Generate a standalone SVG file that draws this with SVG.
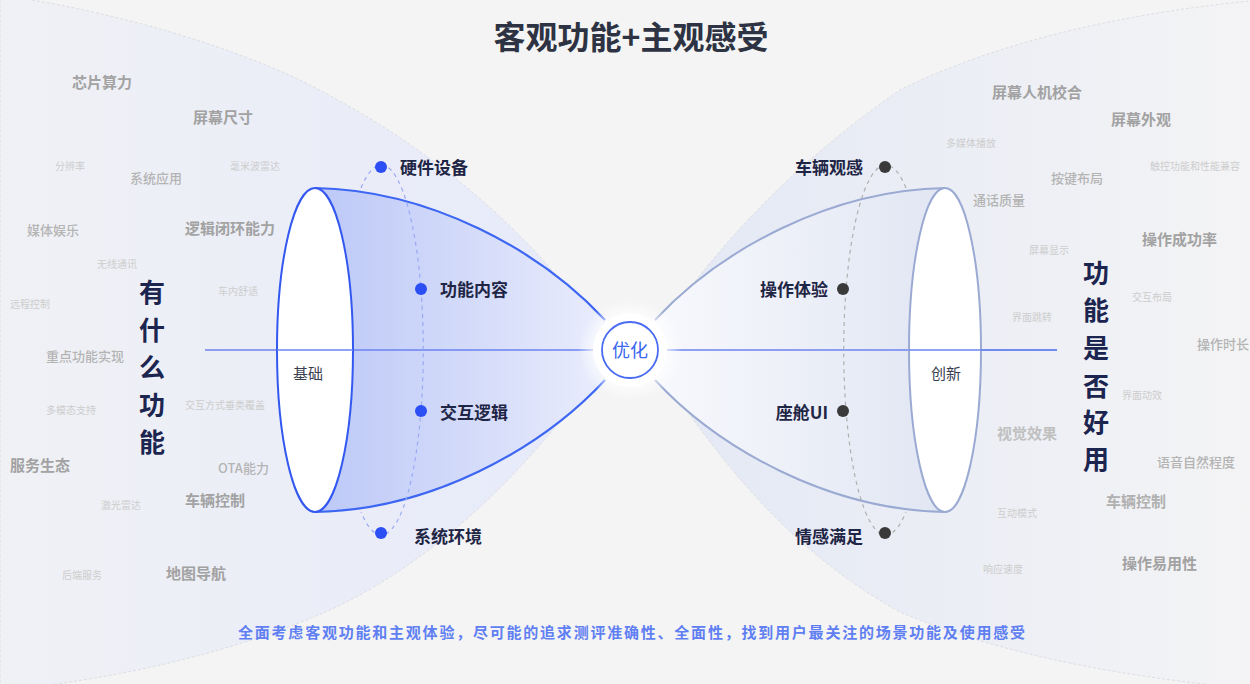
<svg xmlns="http://www.w3.org/2000/svg" width="1250" height="684" viewBox="0 0 1250 684">
<defs>
<style>
text{font-family:"Noto Sans CJK SC","Noto Sans",sans-serif;}
.g15{font-size:15px;font-weight:700;fill:#a2a2a2;}
.g13{font-size:13px;font-weight:500;fill:#b4b4b4;}
.g10{font-size:10px;fill:#cdcdcd;}
.lab{font-size:17px;font-weight:700;fill:#1e2545;}
.vert{font-size:26px;font-weight:700;fill:#1b2550;text-anchor:middle;}
.dotb{fill:#2b4ef5;}
.dotk{fill:#3a3a3a;}
</style>
<linearGradient id="bgL" x1="0" y1="0" x2="1" y2="0">
<stop offset="0" stop-color="#f0f1f5"/>
<stop offset="1" stop-color="#e6eafa"/>
</linearGradient>
<linearGradient id="bgR" x1="0" y1="0" x2="1" y2="0">
<stop offset="0" stop-color="#e3e8f5"/>
<stop offset="1" stop-color="#f4f4f5"/>
</linearGradient>
<linearGradient id="bodyL" x1="315" y1="0" x2="610" y2="0" gradientUnits="userSpaceOnUse">
<stop offset="0" stop-color="#bcc8f7"/>
<stop offset="1" stop-color="#eaedfc"/>
</linearGradient>
<linearGradient id="bodyR" x1="650" y1="0" x2="945" y2="0" gradientUnits="userSpaceOnUse">
<stop offset="0" stop-color="#f8f9fd"/>
<stop offset="1" stop-color="#e1e6f3"/>
</linearGradient>
<radialGradient id="glow">
<stop offset="0.55" stop-color="#ffffff" stop-opacity="1"/>
<stop offset="1" stop-color="#ffffff" stop-opacity="0"/>
</radialGradient>
</defs>
<rect width="1250" height="684" fill="#f4f4f4"/>
<g id="background">
<path d="M612,350 C560,270 470,165 300,80 C230,47 120,12 0,-5 L0,690 C120,680 240,650 330,610 C460,550 560,430 612,350 Z" fill="url(#bgL)" stroke="#d6d8de" stroke-dasharray="3 2" stroke-width="0.8"/>
<path d="M645,350 C700,270 770,180 900,90 C980,50 1100,15 1260,0 L1260,690 C1100,675 990,650 900,612 C770,540 700,430 645,350 Z" fill="url(#bgR)" stroke="#d6d8de" stroke-dasharray="3 2" stroke-width="0.8"/>
</g>
<g id="title"><text x="631" y="49" text-anchor="middle" font-size="32" font-weight="700" fill="#2d3342">客观功能+主观感受</text></g>
<g id="scatter-left">
<text class="g15" x="72" y="88">芯片算力</text>
<text class="g15" x="193" y="123">屏幕尺寸</text>
<text class="g10" x="55" y="170">分辨率</text>
<text class="g13" x="130" y="183">系统应用</text>
<text class="g10" x="230" y="170">毫米波雷达</text>
<text class="g13" x="27" y="235">媒体娱乐</text>
<text class="g15" x="185" y="234">逻辑闭环能力</text>
<text class="g10" x="97" y="268">无线通讯</text>
<text class="g10" x="218" y="295">车内舒适</text>
<text class="g10" x="10" y="308">远程控制</text>
<text class="g13" x="46" y="361">重点功能实现</text>
<text class="g10" x="46" y="414">多模态支持</text>
<text class="g10" x="185" y="409">交互方式垂类覆盖</text>
<text class="g13" x="218" y="473">OTA能力</text>
<text class="g15" x="10" y="471">服务生态</text>
<text class="g10" x="101" y="509">激光雷达</text>
<text class="g15" x="185" y="506">车辆控制</text>
<text class="g10" x="62" y="579">后端服务</text>
<text class="g15" x="166" y="579">地图导航</text>
</g>
<g id="scatter-right">
<text class="g15" x="992" y="98">屏幕人机校合</text>
<text class="g15" x="1111" y="125">屏幕外观</text>
<text class="g10" x="946" y="147">多媒体播放</text>
<text class="g10" x="1150" y="170">触控功能和性能兼容</text>
<text class="g13" x="1051" y="183">按键布局</text>
<text class="g13" x="973" y="205">通话质量</text>
<text class="g15" x="1142" y="245">操作成功率</text>
<text class="g10" x="1029" y="254">屏幕显示</text>
<text class="g10" x="1132" y="301">交互布局</text>
<text class="g10" x="1012" y="321">界面跳转</text>
<text class="g13" x="1197" y="349">操作时长</text>
<text class="g10" x="1122" y="399">界面动效</text>
<text class="g15" x="997" y="439" style="fill:#c0c0c0">视觉效果</text>
<text class="g13" x="1157" y="467">语音自然程度</text>
<text class="g15" x="1106" y="507" style="fill:#b0b0b0">车辆控制</text>
<text class="g10" x="997" y="517">互动模式</text>
<text class="g15" x="1122" y="569">操作易用性</text>
<text class="g10" x="983" y="573">响应速度</text>
</g>
<g id="axis">
<line x1="205" y1="350" x2="1057" y2="350" stroke="#6b83f0" stroke-width="1.5"/>
</g>
<g id="funnel-left">
<path d="M315,188 C430,190 540,250 605,320 L605,380 C540,450 430,510 315,512 Z" fill="url(#bodyL)"/>
<path d="M315,188 C430,190 540,250 605,320 M605,380 C540,450 430,510 315,512" fill="none" stroke="#3d66f2" stroke-width="2.2"/>
<line x1="353" y1="350" x2="605" y2="350" stroke="#6b83f0" stroke-width="1.5"/>
<ellipse cx="315" cy="350" rx="38" ry="162" fill="#ffffff" stroke="#3358f0" stroke-width="2"/>
<line x1="277" y1="350" x2="353" y2="350" stroke="#6b83f0" stroke-width="1.5"/>
<text x="308" y="379" text-anchor="middle" font-size="15" fill="#3a3f4f">基础</text>
<path d="M361,188 A42 185 0 1 1 361,512" fill="none" stroke="#9aaaf5" stroke-width="1.2" stroke-dasharray="4 4"/>
</g>
<g id="funnel-right">
<path d="M945,188 C830,190 720,250 655,320 L655,380 C720,450 830,510 945,512 Z" fill="url(#bodyR)"/>
<path d="M945,188 C830,190 720,250 655,320 M655,380 C720,450 830,510 945,512" fill="none" stroke="#9aaad2" stroke-width="2"/>
<line x1="655" y1="350" x2="910" y2="350" stroke="#6b83f0" stroke-width="1.5"/>
<ellipse cx="945" cy="350" rx="36" ry="162" fill="#ffffff" stroke="#9aaad2" stroke-width="2"/>
<line x1="909" y1="350" x2="1057" y2="350" stroke="#6b83f0" stroke-width="1.5"/>
<text x="946" y="379" text-anchor="middle" font-size="15" fill="#3a3f4f">创新</text>
<path d="M906,188 A42 185 0 1 0 906,512" fill="none" stroke="#b0b0b0" stroke-width="1.2" stroke-dasharray="4 4"/>
</g>
<g id="node-hardware"><circle class="dotb" cx="381" cy="167" r="6"/><text class="lab" x="400" y="174">硬件设备</text></g>
<g id="node-content"><circle class="dotb" cx="421" cy="289" r="6"/><text class="lab" x="440" y="296">功能内容</text></g>
<g id="node-logic"><circle class="dotb" cx="421" cy="411" r="6"/><text class="lab" x="440" y="419">交互逻辑</text></g>
<g id="node-system"><circle class="dotb" cx="381" cy="533" r="6"/><text class="lab" x="414" y="543">系统环境</text></g>
<g id="node-look"><circle class="dotk" cx="885" cy="167" r="6"/><text class="lab" x="863" y="174" text-anchor="end">车辆观感</text></g>
<g id="node-operate"><circle class="dotk" cx="843" cy="289" r="6"/><text class="lab" x="828" y="296" text-anchor="end">操作体验</text></g>
<g id="node-ui"><circle class="dotk" cx="843" cy="411" r="6"/><text class="lab" x="828" y="419" text-anchor="end">座舱UI</text></g>
<g id="node-emotion"><circle class="dotk" cx="885" cy="533" r="6"/><text class="lab" x="863" y="543" text-anchor="end">情感满足</text></g>
<g id="node-optimize">
<circle cx="630" cy="350" r="52" fill="url(#glow)"/>
<circle cx="630" cy="350" r="37" fill="#ffffff"/>
<circle cx="630" cy="350" r="28" fill="#ffffff" stroke="#4a6cf0" stroke-width="1.8"/>
<text x="630" y="357" text-anchor="middle" font-size="18" fill="#3a66f0">优化</text>
</g>
<g id="left-vertical">
<text class="vert" x="152" y="302">有</text>
<text class="vert" x="152" y="340">什</text>
<text class="vert" x="152" y="377">么</text>
<text class="vert" x="152" y="415">功</text>
<text class="vert" x="152" y="452">能</text>
</g>
<g id="right-vertical">
<text class="vert" x="1096" y="283">功</text>
<text class="vert" x="1096" y="320">能</text>
<text class="vert" x="1096" y="358">是</text>
<text class="vert" x="1096" y="396">否</text>
<text class="vert" x="1096" y="432">好</text>
<text class="vert" x="1096" y="469">用</text>
</g>
<g id="footer"><text x="238" y="638" font-size="15" font-weight="700" fill="#5f7ff2" textLength="787" lengthAdjust="spacing">全面考虑客观功能和主观体验，尽可能的追求测评准确性、全面性，找到用户最关注的场景功能及使用感受</text></g>
</svg>
